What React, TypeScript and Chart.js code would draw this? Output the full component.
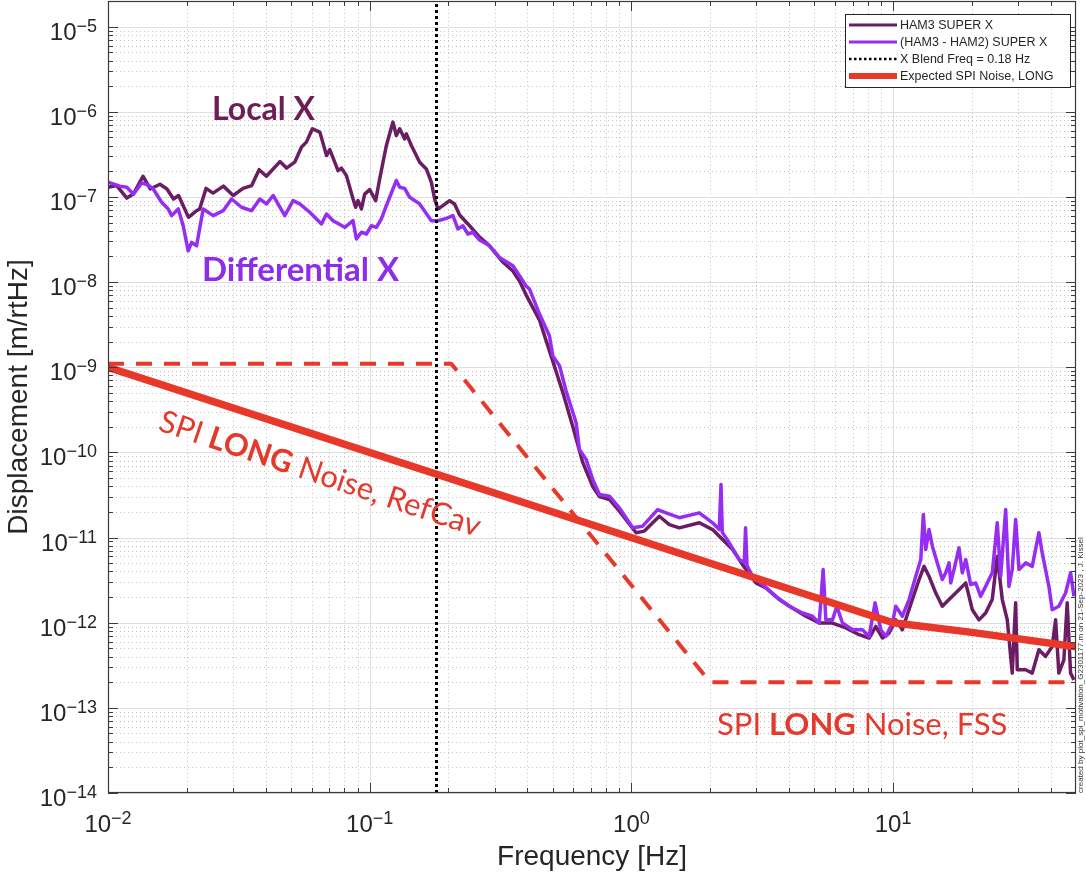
import React, { useEffect, useRef } from 'react';
import { Chart, registerables } from 'chart.js';

Chart.register(...registerables);

// ---------- data ----------
const localFreq = [
  0.01, 0.0108, 0.0118, 0.0125, 0.0136, 0.0145, 0.0158, 0.0168, 0.0178, 0.0186,
  0.0203, 0.0218, 0.0224, 0.0237, 0.0252, 0.0276, 0.0301, 0.0328, 0.0354, 0.0378,
  0.0403, 0.0454, 0.0481, 0.0517, 0.0549, 0.0573, 0.0604, 0.0645, 0.0684, 0.0704,
  0.0757, 0.078, 0.0815, 0.0864, 0.0884, 0.0902, 0.093, 0.0957, 0.1, 0.1054,
  0.1092, 0.1158, 0.1227, 0.1264, 0.1302, 0.136, 0.1381, 0.1443, 0.1552, 0.1646,
  0.172, 0.1771, 0.1823, 0.1905, 0.202, 0.2111, 0.2206, 0.2408, 0.263, 0.2871,
  0.3226, 0.3524, 0.3737, 0.3963, 0.4456, 0.5007, 0.5468, 0.5971, 0.6518, 0.7117,
  0.7549, 0.8241, 0.9, 1.042, 1.121, 1.279, 1.396, 1.525, 1.818, 2.043,
  2.231, 2.436, 2.659, 2.992, 3.267, 3.672, 4.127, 4.643, 5.22, 5.866,
  6.6, 7.418, 8.1, 8.59, 9.1, 9.65, 10.24, 10.85, 11.85, 12.57,
  13.13, 13.72, 14.56, 15.42, 16.36, 17.35, 18.95, 20.08, 21.29, 22.58,
  23.93, 25.01, 26.14, 27.31, 28.53, 29.4, 29.82, 32.11, 34.02, 36.08,
  38.26, 40.56, 41.78, 43.0, 44.94, 46.27, 47.67, 49.08,
];
const localAsd = [
  1.30e-7, 1.36e-7, 9.7e-8, 1.08e-7, 1.75e-7, 1.24e-7, 1.41e-7, 1.24e-7, 9.46e-8, 1.04e-7,
  5.77e-8, 6.9e-8, 7.23e-8, 1.26e-7, 1.11e-7, 1.34e-7, 1.04e-7, 1.26e-7, 1.36e-7, 2.09e-7,
  1.75e-7, 2.6e-7, 2.18e-7, 2.56e-7, 3.85e-7, 4.4e-7, 6.31e-7, 5.77e-7, 3.06e-7, 3.6e-7,
  2.04e-7, 2.18e-7, 1.78e-7, 9.46e-8, 7.57e-8, 9.04e-8, 7.23e-8, 1.08e-7, 1.22e-7, 9.04e-8,
  1.63e-7, 4.02e-7, 7.57e-7, 5.26e-7, 6.31e-7, 4.81e-7, 5.51e-7, 4.02e-7, 2.56e-7, 2.13e-7,
  1.49e-7, 9.46e-8, 7.23e-8, 7.91e-8, 9.04e-8, 8.28e-8, 6.14e-8, 4.59e-8, 3.38e-8, 2.67e-8,
  1.72e-8, 1.35e-8, 1.03e-8, 7.03e-9, 3.57e-9, 1.18e-9, 5.08e-10, 2.02e-10, 7.62e-11, 3.98e-11,
  3.03e-11, 2.8e-11, 2.04e-11, 1.14e-11, 1.19e-11, 1.78e-11, 1.42e-11, 1.3e-11, 1.49e-11, 1.24e-11,
  9.46e-12, 7.23e-12, 4.81e-12, 2.93e-12, 2.56e-12, 1.87e-12, 1.49e-12, 1.19e-12, 9.91e-13, 9.91e-13,
  8.67e-13, 7.23e-13, 6.61e-13, 9.04e-13, 6.61e-13, 7.57e-13, 1.08e-12, 8.28e-13, 1.87e-12, 3.21e-12,
  4.59e-12, 3.51e-12, 2.23e-12, 1.56e-12, 1.87e-12, 2.23e-12, 2.93e-12, 1.42e-12, 1.08e-12, 1.3e-12,
  1.87e-12, 6.03e-12, 1.87e-12, 1.08e-12, 2.56e-13, 1.71e-12, 2.8e-13, 2.8e-13, 2.56e-13, 4.81e-13,
  4.02e-13, 5.26e-13, 1.08e-12, 2.56e-13, 3.67e-13, 1.71e-12, 2.56e-13, 2.13e-13,
];

const diffFreq = [
  0.01, 0.0111, 0.0118, 0.0125, 0.01345, 0.01425, 0.01489, 0.01603, 0.01699, 0.01751,
  0.01855, 0.01938, 0.02025, 0.02087, 0.0218, 0.02311, 0.02523, 0.02755, 0.02966, 0.03238,
  0.03535, 0.03803, 0.04034, 0.04276, 0.04737, 0.05096, 0.05405, 0.05902, 0.06542, 0.06835,
  0.07244, 0.08031, 0.08636, 0.08898, 0.09297, 0.09714, 0.1015, 0.1061, 0.1108, 0.1158,
  0.1227, 0.1264, 0.1302, 0.136, 0.1422, 0.1552, 0.172, 0.1823, 0.1962, 0.208,
  0.2173, 0.2271, 0.2372, 0.248, 0.263, 0.2871, 0.3134, 0.3524, 0.3737, 0.3963,
  0.408, 0.4456, 0.4864, 0.5007, 0.5312, 0.5633, 0.6149, 0.6331, 0.6714, 0.7117,
  0.7549, 0.8241, 0.9, 1.012, 1.104, 1.26, 1.357, 1.525, 1.818, 2.043,
  2.167, 2.2, 2.225, 2.366, 2.584, 2.7, 2.731, 2.765, 2.904, 3.171,
  3.567, 4.01, 4.507, 4.92, 5.22, 5.405, 5.535, 5.866, 6.097, 6.406,
  6.995, 7.634, 8.1, 8.537, 8.977, 9.377, 9.94, 10.24, 10.85, 11.51,
  12.21, 12.76, 13.05, 13.33, 13.72, 14.13, 14.76, 15.42, 15.89, 16.36,
  16.61, 17.09, 17.86, 18.39, 18.95, 19.8, 20.69, 21.61, 22.58, 23.93,
  25.01, 25.77, 26.93, 27.72, 28.53, 29.4, 30.27, 32.11, 34.02, 36.08,
  37.14, 39.39, 40.56, 43.0, 45.62, 47.67, 49.08,
];
const diffAsd = [
  1.49e-7, 1.34e-7, 1.30e-7, 1.08e-7, 1.46e-7, 1.38e-7, 1.24e-7, 8.67e-8, 7.23e-8, 6.03e-8,
  7.23e-8, 4.59e-8, 2.33e-8, 2.93e-8, 2.67e-8, 7.23e-8, 6.03e-8, 6.9e-8, 9.46e-8, 7.57e-8,
  6.9e-8, 9.46e-8, 8.28e-8, 1.04e-7, 6.03e-8, 9.04e-8, 8.28e-8, 6.61e-8, 4.81e-8, 6.31e-8,
  5.26e-8, 4.4e-8, 5.26e-8, 3.21e-8, 3.85e-8, 3.67e-8, 4.59e-8, 4.4e-8, 5.51e-8, 7.91e-8,
  1.24e-7, 1.56e-7, 1.30e-7, 1.26e-7, 9.91e-8, 8.28e-8, 5.26e-8, 5.26e-8, 5.61e-8, 6.03e-8,
  4.21e-8, 4.59e-8, 3.67e-8, 3.85e-8, 3.12e-8, 2.67e-8, 1.95e-8, 1.56e-8, 1.19e-8, 8.97e-9,
  8.28e-9, 4.21e-9, 2.33e-9, 1.36e-9, 1.04e-9, 5.22e-10, 2.23e-10, 1.08e-10, 8.28e-11, 4.81e-11,
  3.21e-11, 3.06e-11, 2.23e-11, 1.30e-11, 1.36e-11, 2.13e-11, 1.95e-11, 1.71e-11, 1.95e-11, 1.49e-11,
  1.24e-11, 4.21e-11, 1.15e-11, 8.67e-12, 5.51e-12, 5.08e-12, 1.30e-11, 4.69e-12, 3.51e-12, 2.80e-12,
  2.04e-12, 1.56e-12, 1.30e-12, 1.19e-12, 9.91e-13, 4.21e-12, 1.08e-12, 1.08e-12, 1.56e-12, 9.91e-13,
  8.28e-13, 8.28e-13, 6.9e-13, 1.71e-12, 8.28e-13, 6.9e-13, 9.91e-13, 1.56e-12, 1.19e-12, 1.87e-12,
  3.51e-12, 5.51e-12, 1.87e-11, 7.23e-12, 1.24e-11, 7.91e-12, 5.04e-12, 3.21e-12, 3.85e-12, 5.04e-12,
  2.93e-12, 4.21e-12, 7.57e-12, 3.85e-12, 5.51e-12, 2.80e-12, 2.93e-12, 2.04e-12, 2.67e-12, 3.85e-12,
  1.49e-11, 3.51e-12, 2.13e-11, 2.67e-12, 4.21e-12, 1.63e-11, 4.21e-12, 5.04e-12, 4.59e-12, 1.14e-11,
  6.61e-12, 2.67e-12, 1.42e-12, 1.56e-12, 2.23e-12, 3.85e-12, 2.04e-12,
];

const spiFreq = [0.01, 10, 20, 50];
const spiAsd = [1e-9, 1e-12, 7.7e-13, 5.2e-13];
const fssFreq = [0.01, 0.205, 2, 50];
const fssAsd = [1.1e-9, 1.1e-9, 2e-13, 2e-13];
const blendFreq = 0.18;

const xMin = 0.01;
const xMax = 50;
const yMin = 1e-14;
const yMax = 2e-5;
const xTickValues = [0.01, 0.1, 1, 10];
const xTickExponents = ['−2', '−1', '0', '1'];
const yTickValues = [1e-14, 1e-13, 1e-12, 1e-11, 1e-10, 1e-9, 1e-8, 1e-7, 1e-6, 1e-5];
const yTickExponents = ['−14', '−13', '−12', '−11', '−10', '−9', '−8', '−7', '−6', '−5'];
const legendLabels = ['HAM3 SUPER X', '(HAM3 - HAM2) SUPER X', 'X Blend Freq = 0.18 Hz', 'Expected SPI Noise, LONG'];

const DARK = '#6B1D63';
const VIOLET = '#962DF2';
const RED = '#E8382A';
const AXIS = '#262626';
const TICK_FONT = "'Liberation Sans', Arial, 'DejaVu Sans', sans-serif";
const ANN_FONT = "Lato, 'Open Sans', sans-serif";

const toPts = (fs: number[], vs: number[]) => fs.map((f, i) => ({ x: f, y: vs[i] }));

function minorValues(lo: number, hi: number, minExp: number, maxExp: number) {
  const out: number[] = [];
  for (let n = minExp; n <= maxExp; n++) {
    for (let k = 2; k <= 9; k++) {
      const v = k * Math.pow(10, n);
      if (v > lo && v < hi) out.push(v);
    }
  }
  return out;
}

function drawParts(ctx: CanvasRenderingContext2D, parts: { t: string; b?: boolean }[], size: number) {
  let x = 0;
  for (const p of parts) {
    ctx.font = `${p.b ? 'bold ' : ''}${size}px ${ANN_FONT}`;
    ctx.fillText(p.t, x, 0);
    x += ctx.measureText(p.t).width;
  }
}

const BASE_SIZE = 24;
const EXP_SIZE = 18;
const EXP_RISE = 8;

function powerLabel(ctx: CanvasRenderingContext2D, exp: string, anchorX: number, baseline: number, align: 'center' | 'right') {
  ctx.font = `${BASE_SIZE}px ${TICK_FONT}`;
  const wb = ctx.measureText('10').width;
  ctx.font = `${EXP_SIZE}px ${TICK_FONT}`;
  const we = ctx.measureText(exp).width;
  const total = wb + we;
  const x0 = align === 'center' ? anchorX - total / 2 : anchorX - total;
  ctx.textAlign = 'left';
  ctx.textBaseline = 'alphabetic';
  ctx.font = `${BASE_SIZE}px ${TICK_FONT}`;
  ctx.fillText('10', x0, baseline);
  ctx.font = `${EXP_SIZE}px ${TICK_FONT}`;
  ctx.fillText(exp, x0 + wb, baseline - EXP_RISE);
}

const decorPlugin = {
  id: 'decor',
  beforeDatasetsDraw(chart: any) {
    const { ctx, chartArea: a, scales } = chart;
    const xs = scales.x;
    const ys = scales.y;
    ctx.save();
    ctx.lineWidth = 1;
    ctx.strokeStyle = '#c6c6c6';
    ctx.setLineDash([1, 3]);
    for (const v of minorValues(xMin, xMax, -2, 1)) {
      const px = Math.round(xs.getPixelForValue(v)) + 0.5;
      ctx.beginPath(); ctx.moveTo(px, a.top); ctx.lineTo(px, a.bottom); ctx.stroke();
    }
    for (const v of minorValues(yMin, yMax, -14, -5)) {
      const py = Math.round(ys.getPixelForValue(v)) + 0.5;
      ctx.beginPath(); ctx.moveTo(a.left, py); ctx.lineTo(a.right, py); ctx.stroke();
    }
    ctx.setLineDash([]);
    ctx.strokeStyle = '#dedede';
    for (const v of xTickValues) {
      const px = Math.round(xs.getPixelForValue(v)) + 0.5;
      ctx.beginPath(); ctx.moveTo(px, a.top); ctx.lineTo(px, a.bottom); ctx.stroke();
    }
    for (const v of yTickValues) {
      const py = Math.round(ys.getPixelForValue(v)) + 0.5;
      ctx.beginPath(); ctx.moveTo(a.left, py); ctx.lineTo(a.right, py); ctx.stroke();
    }
    ctx.restore();
  },
  afterDatasetsDraw(chart: any) {
    const { ctx, chartArea: a, scales } = chart;
    const xs = scales.x;
    const ys = scales.y;
    ctx.save();
    ctx.strokeStyle = '#3a3a3a';
    ctx.lineWidth = 1.2;
    ctx.strokeRect(a.left + 0.5, a.top + 0.5, a.right - a.left - 1, a.bottom - a.top - 1);
    ctx.lineWidth = 1;
    const tickX = (v: number, len: number) => {
      const px = Math.round(xs.getPixelForValue(v)) + 0.5;
      ctx.beginPath();
      ctx.moveTo(px, a.bottom); ctx.lineTo(px, a.bottom - len);
      ctx.moveTo(px, a.top); ctx.lineTo(px, a.top + len);
      ctx.stroke();
    };
    const tickY = (v: number, len: number) => {
      const py = Math.round(ys.getPixelForValue(v)) + 0.5;
      ctx.beginPath();
      ctx.moveTo(a.left, py); ctx.lineTo(a.left + len, py);
      ctx.moveTo(a.right, py); ctx.lineTo(a.right - len, py);
      ctx.stroke();
    };
    minorValues(xMin, xMax, -2, 1).forEach((v) => tickX(v, 5));
    xTickValues.forEach((v) => tickX(v, 10));
    minorValues(yMin, yMax, -14, -5).forEach((v) => tickY(v, 5));
    yTickValues.forEach((v) => tickY(v, 10));

    // tick labels with raised exponents
    ctx.fillStyle = AXIS;
    xTickValues.forEach((v, i) => {
      powerLabel(ctx, xTickExponents[i], xs.getPixelForValue(v), a.bottom + 39, 'center');
    });
    yTickValues.forEach((v, i) => {
      powerLabel(ctx, yTickExponents[i], a.left - 11, ys.getPixelForValue(v) + 13, 'right');
    });
    ctx.restore();
  },
  afterDraw(chart: any) {
    const { ctx } = chart;
    ctx.save();
    // ---- legend ----
    const bx = 845, by = 14, bw = 225, bh = 73;
    ctx.fillStyle = '#ffffff';
    ctx.fillRect(bx, by, bw, bh);
    ctx.strokeStyle = AXIS;
    ctx.lineWidth = 1;
    ctx.strokeRect(bx + 0.5, by + 0.5, bw, bh);
    const rowY = [25, 42, 59, 76];
    const styles = [
      { c: DARK, w: 3, d: [] as number[] },
      { c: VIOLET, w: 3, d: [] as number[] },
      { c: '#000000', w: 2.5, d: [2.5, 2.5] },
      { c: RED, w: 6, d: [] as number[] },
    ];
    legendLabels.forEach((lab, i) => {
      const s = styles[i];
      ctx.strokeStyle = s.c;
      ctx.lineWidth = s.w;
      ctx.setLineDash(s.d);
      ctx.beginPath(); ctx.moveTo(849, rowY[i]); ctx.lineTo(897, rowY[i]); ctx.stroke();
      ctx.setLineDash([]);
      ctx.fillStyle = AXIS;
      ctx.font = `12.5px ${TICK_FONT}`;
      ctx.textBaseline = 'middle';
      ctx.textAlign = 'left';
      ctx.fillText(lab, 900, rowY[i] + 0.5);
    });

    // ---- annotations ----
    ctx.textBaseline = 'alphabetic';
    ctx.textAlign = 'left';
    ctx.fillStyle = '#6D1F55';
    ctx.font = `bold 32px ${ANN_FONT}`;
    ctx.fillText('Local X', 212, 120);

    ctx.fillStyle = '#8E2CE8';
    ctx.font = `bold 33px ${ANN_FONT}`;
    ctx.fillText('Differential X', 202, 281);

    ctx.fillStyle = '#E5392B';
    ctx.save();
    ctx.translate(157, 430);
    ctx.rotate((18.5 * Math.PI) / 180);
    drawParts(ctx, [{ t: 'SPI ' }, { t: 'LONG', b: true }, { t: ' Noise, RefCav' }], 31);
    ctx.restore();

    ctx.save();
    ctx.translate(717, 735);
    drawParts(ctx, [{ t: 'SPI ' }, { t: 'LONG', b: true }, { t: ' Noise, FSS' }], 31);
    ctx.restore();

    // ---- stamp ----
    const stamp = 'created by plot_spi_motivation_G2301177.m on 21-Sep-2023 , J. Kissel';
    ctx.font = `8px ${TICK_FONT}`;
    const w8 = ctx.measureText(stamp).width;
    const fs = (8 * 256) / w8;
    ctx.font = `${fs.toFixed(2)}px ${TICK_FONT}`;
    ctx.fillStyle = '#333333';
    ctx.translate(1081, 793);
    ctx.rotate(-Math.PI / 2);
    ctx.textBaseline = 'middle';
    ctx.fillText(stamp, 0, 0);
    ctx.restore();
  },
};

export default function App() {
  const ref = useRef<HTMLCanvasElement | null>(null);

  useEffect(() => {
    if (!ref.current) return;
    const chart = new Chart(ref.current, {
      type: 'line',
      data: {
        datasets: [
          {
            label: 'Expected SPI Noise, LONG',
            data: toPts(spiFreq, spiAsd),
            borderColor: RED,
            borderWidth: 7.5,
            order: 0,
          },
          {
            label: 'SPI LONG Noise, FSS',
            data: toPts(fssFreq, fssAsd),
            borderColor: RED,
            borderWidth: 4,
            borderDash: [16, 12],
            order: 1,
          },
          {
            label: 'X Blend Freq = 0.18 Hz',
            data: [
              { x: blendFreq, y: yMin },
              { x: blendFreq, y: yMax },
            ],
            borderColor: '#000000',
            borderWidth: 3,
            borderDash: [3, 3],
            borderCapStyle: 'butt',
            order: 2,
          },
          {
            label: '(HAM3 - HAM2) SUPER X',
            data: toPts(diffFreq, diffAsd),
            borderColor: VIOLET,
            borderWidth: 3.5,
            order: 3,
          },
          {
            label: 'HAM3 SUPER X',
            data: toPts(localFreq, localAsd),
            borderColor: DARK,
            borderWidth: 3.5,
            order: 4,
          },
        ],
      } as any,
      options: {
        animation: false,
        responsive: true,
        maintainAspectRatio: false,
        events: [],
        layout: { padding: { top: 1, right: 10, bottom: 0, left: 0 } },
        elements: {
          point: { radius: 0 },
          line: { tension: 0, borderJoinStyle: 'round' },
        },
        plugins: {
          legend: { display: false },
          tooltip: { enabled: false },
        },
        scales: {
          x: {
            type: 'logarithmic',
            position: 'bottom',
            min: xMin,
            max: xMax,
            grid: { display: false, drawTicks: false },
            border: { display: false },
            afterBuildTicks: (s: any) => {
              s.ticks = xTickValues.map((v) => ({ value: v, major: true }));
            },
            afterFit: (s: any) => {
              s.height = 83;
              s.paddingLeft = 0;
              s.paddingRight = 0;
            },
            ticks: { display: false },
            title: {
              display: true,
              text: 'Frequency [Hz]',
              color: AXIS,
              font: { family: TICK_FONT, size: 28 },
              padding: { top: 0, bottom: 2 },
            },
          },
          y: {
            type: 'logarithmic',
            position: 'left',
            min: yMin,
            max: yMax,
            grid: { display: false, drawTicks: false },
            border: { display: false },
            afterBuildTicks: (s: any) => {
              s.ticks = yTickValues.map((v) => ({ value: v, major: true }));
            },
            afterFit: (s: any) => {
              s.width = 108;
              s.paddingTop = 0;
              s.paddingBottom = 0;
            },
            ticks: { display: false },
            title: {
              display: true,
              text: 'Displacement [m/rtHz]',
              color: AXIS,
              font: { family: TICK_FONT, size: 28 },
              padding: { top: 2, bottom: 0 },
            },
          },
        },
      } as any,
      plugins: [decorPlugin],
    });
    return () => chart.destroy();
  }, []);

  return (
    <div style={{ position: 'fixed', left: 0, top: 0, width: 1086, height: 876, background: '#ffffff' }}>
      <canvas ref={ref} />
    </div>
  );
}
